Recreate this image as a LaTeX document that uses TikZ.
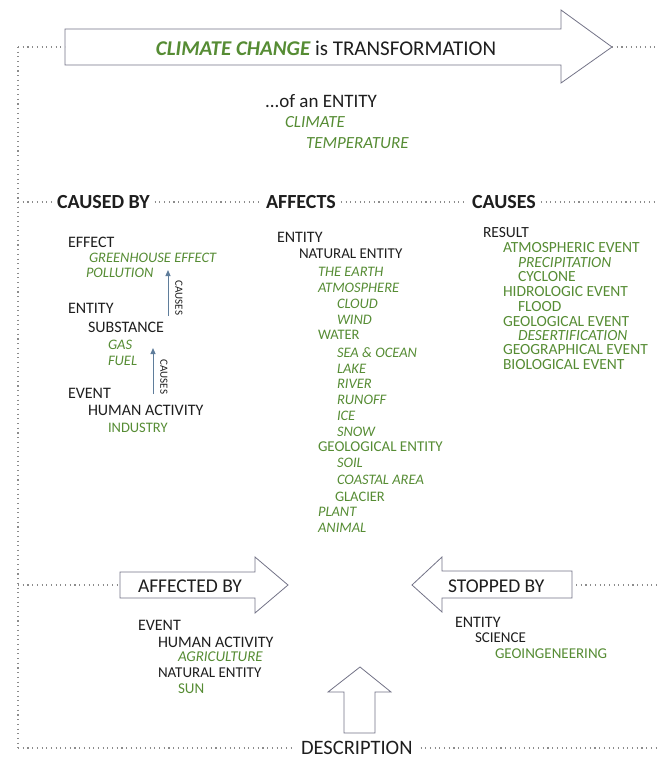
\documentclass[tikz,border=0pt]{standalone}
\usepackage{fontspec}
\setmainfont{Carlito}
\usetikzlibrary{arrows.meta}
\definecolor{grn}{RGB}{86,140,52}
\definecolor{ink}{RGB}{30,30,30}
\definecolor{arrowline}{RGB}{115,115,135}
\definecolor{dotc}{RGB}{140,140,140}
\definecolor{causeblue}{RGB}{95,125,155}
\newcommand\fsz[1]{\fontsize{#1}{#1}\selectfont}
\begin{document}
\begin{tikzpicture}[x=1pt,y=-1pt,
  every node/.style={inner sep=0pt,outer sep=0pt,anchor=west,text=ink},
  hdr/.style={font=\fsz{20}\bfseries},
  bk/.style={font=\fsz{16}},
  gu/.style={font=\fsz{14.5},text=grn},
  gi/.style={font=\fsz{14.5}\itshape,text=grn},
  ru/.style={font=\fsz{15.5},text=grn},
  ri/.style={font=\fsz{15.5}\itshape,text=grn},
  bigarrow/.style={draw=arrowline,line width=0.8pt,fill=white,line join=miter},
  dotline/.style={draw=dotc,line width=1.1pt,dash pattern=on 1.1pt off 3.6pt},
  causearrow/.style={draw=causeblue,line width=1pt,-{Triangle[length=6pt,width=5pt]}},
  causelabel/.style={font=\fsz{11},rotate=-90,anchor=center}
]
\useasboundingbox (0,0) rectangle (656,760);

% ---------- top arrow ----------
\draw[bigarrow] (65,29) -- (561,29) -- (561,10) -- (612,47) -- (561,83) -- (561,65) -- (65,65) -- cycle;
\coordinate (topTail) at (65,47);
\coordinate (topTip) at (612,47);
\node[anchor=center] (title) at (326,48) {\fsz{21}\textcolor{grn}{\bfseries\itshape CLIMATE CHANGE} is TRANSFORMATION};

% ---------- frame dotted lines ----------
\coordinate (cTL) at (18,47);
\coordinate (cBL) at (18,748);
\coordinate (cTR) at (656,47);
\coordinate (cBR) at (656,748);
\draw[dotline] (cTL) -- (topTail);
\draw[dotline] (topTip) -- (cTR);
\draw[dotline] (cTL) -- (cBL);

% ---------- top block ----------
\node[font=\fsz{19}] (ofent) at (265,101) {...of an ENTITY};
\node[font=\fsz{17}\itshape,text=grn] (climate) at (285,122) {CLIMATE};
\node[font=\fsz{17}\itshape,text=grn] (temp) at (306,143) {TEMPERATURE};

% ---------- header row ----------
\node[hdr] (causedby) at (57,202) {CAUSED BY};
\node[hdr] (affects) at (266,202) {AFFECTS};
\node[hdr] (causes) at (472,202) {CAUSES};
\coordinate (hL) at (18,202);
\coordinate (hR) at (656,202);
\draw[dotline] (hL) -- ([xshift=-5pt]causedby.west);
\draw[dotline] ([xshift=5pt]causedby.east) -- ([xshift=-5pt]affects.west);
\draw[dotline] ([xshift=5pt]affects.east) -- ([xshift=-5pt]causes.west);
\draw[dotline] ([xshift=5pt]causes.east) -- (hR);

% ---------- left column ----------
\node[bk] (effect) at (68,242) {EFFECT};
\node[gi] (greenh) at (89,258) {GREENHOUSE EFFECT};
\node[gi] (pollut) at (86,273) {POLLUTION};
\node[bk] (lentity) at (68,308) {ENTITY};
\node[bk] (subst) at (88,327) {SUBSTANCE};
\node[gi] (gas) at (108,345) {GAS};
\node[gi] (fuel) at (108,361) {FUEL};
\node[bk] (levent) at (68,393) {EVENT};
\node[bk] (lhuman) at (88,410) {HUMAN ACTIVITY};
\node[gu] (industry) at (108,428) {INDUSTRY};

\coordinate (c1a) at (168,316);
\coordinate (c1b) at (168,270);
\coordinate (c2a) at (153,394);
\coordinate (c2b) at (153,348);
\draw[causearrow] (c1a) -- (c1b);
\draw[causearrow] (c2a) -- (c2b);
\node[causelabel] (cl1) at (179,298) {CAUSES};
\node[causelabel] (cl2) at (164,377) {CAUSES};

% ---------- middle column ----------
\node[bk] (mentity) at (277,237) {ENTITY};
\node[font=\fsz{15}] (natent) at (299,254) {NATURAL ENTITY};
\node[gi] (earth) at (318,272) {THE EARTH};
\node[gi] (atmos) at (318,288) {ATMOSPHERE};
\node[gi] (cloud) at (337,304) {CLOUD};
\node[gi] (wind) at (337,320) {WIND};
\node[gu] (water) at (318,335) {WATER};
\node[gi] (sea) at (337,353) {SEA \& OCEAN};
\node[gi] (lake) at (337,369) {LAKE};
\node[gi] (river) at (337,384) {RIVER};
\node[gi] (runoff) at (337,400) {RUNOFF};
\node[gi] (ice) at (337,416) {ICE};
\node[gi] (snow) at (337,432) {SNOW};
\node[gu,font=\fsz{15}] (geoent) at (318,447) {GEOLOGICAL ENTITY};
\node[gi] (soil) at (337,463) {SOIL};
\node[gi] (coast) at (337,480) {COASTAL AREA};
\node[gu] (glacier) at (335,497) {GLACIER};
\node[gi] (plant) at (318,512) {PLANT};
\node[gi] (animal) at (318,528) {ANIMAL};

% ---------- right column ----------
\node[font=\fsz{15.5}] (result) at (483,233) {RESULT};
\node[ru] (atmev) at (503,248) {ATMOSPHERIC EVENT};
\node[ri] (precip) at (518,263) {PRECIPITATION};
\node[ru] (cyclone) at (518,277) {CYCLONE};
\node[ru] (hidro) at (503,292) {HIDROLOGIC EVENT};
\node[ru] (flood) at (518,307) {FLOOD};
\node[ru] (geolev) at (503,322) {GEOLOGICAL EVENT};
\node[ri] (desert) at (518,336) {DESERTIFICATION};
\node[ru] (geogev) at (503,350) {GEOGRAPHICAL EVENT};
\node[ru] (bioev) at (503,365) {BIOLOGICAL EVENT};

% ---------- affected by ----------
\draw[bigarrow] (120,572) -- (255,572) -- (255,557) -- (288,585) -- (255,613) -- (255,598) -- (120,598) -- cycle;
\coordinate (affTail) at (120,585);
\coordinate (aL) at (18,585);
\draw[dotline] (aL) -- (affTail);
\node[font=\fsz{19.5}] (affby) at (138,586) {AFFECTED BY};
\node[bk] (bevent) at (138,625) {EVENT};
\node[bk] (bhuman) at (158,642) {HUMAN ACTIVITY};
\node[font=\fsz{15}\itshape,text=grn] (agri) at (178,657) {AGRICULTURE};
\node[font=\fsz{15}] (bnat) at (158,673) {NATURAL ENTITY};
\node[font=\fsz{15},text=grn] (sun) at (178,689) {SUN};

% ---------- stopped by ----------
\draw[bigarrow] (572,571) -- (442,571) -- (442,557) -- (412,585) -- (442,612) -- (442,598) -- (572,598) -- cycle;
\coordinate (stopTail) at (572,585);
\coordinate (sR) at (656,585);
\draw[dotline] ([xshift=4pt]stopTail) -- (sR);
\node[font=\fsz{19.5}] (stopby) at (448,586) {STOPPED BY};
\node[bk] (sentity) at (455,622) {ENTITY};
\node[font=\fsz{15}] (science) at (475,638) {SCIENCE};
\node[font=\fsz{15},text=grn] (geoing) at (495,654) {GEOINGENEERING};

% ---------- description ----------
\draw[bigarrow] (344,733) -- (344,692) -- (328,692) -- (360,667) -- (391,692) -- (375,692) -- (375,733) -- cycle;
\node[font=\fsz{20.5}] (desc) at (301,748) {DESCRIPTION};
\draw[dotline] (cBL) -- ([xshift=-7pt]desc.west);
\draw[dotline] ([xshift=8pt]desc.east) -- (cBR);
\end{tikzpicture}
\end{document}
